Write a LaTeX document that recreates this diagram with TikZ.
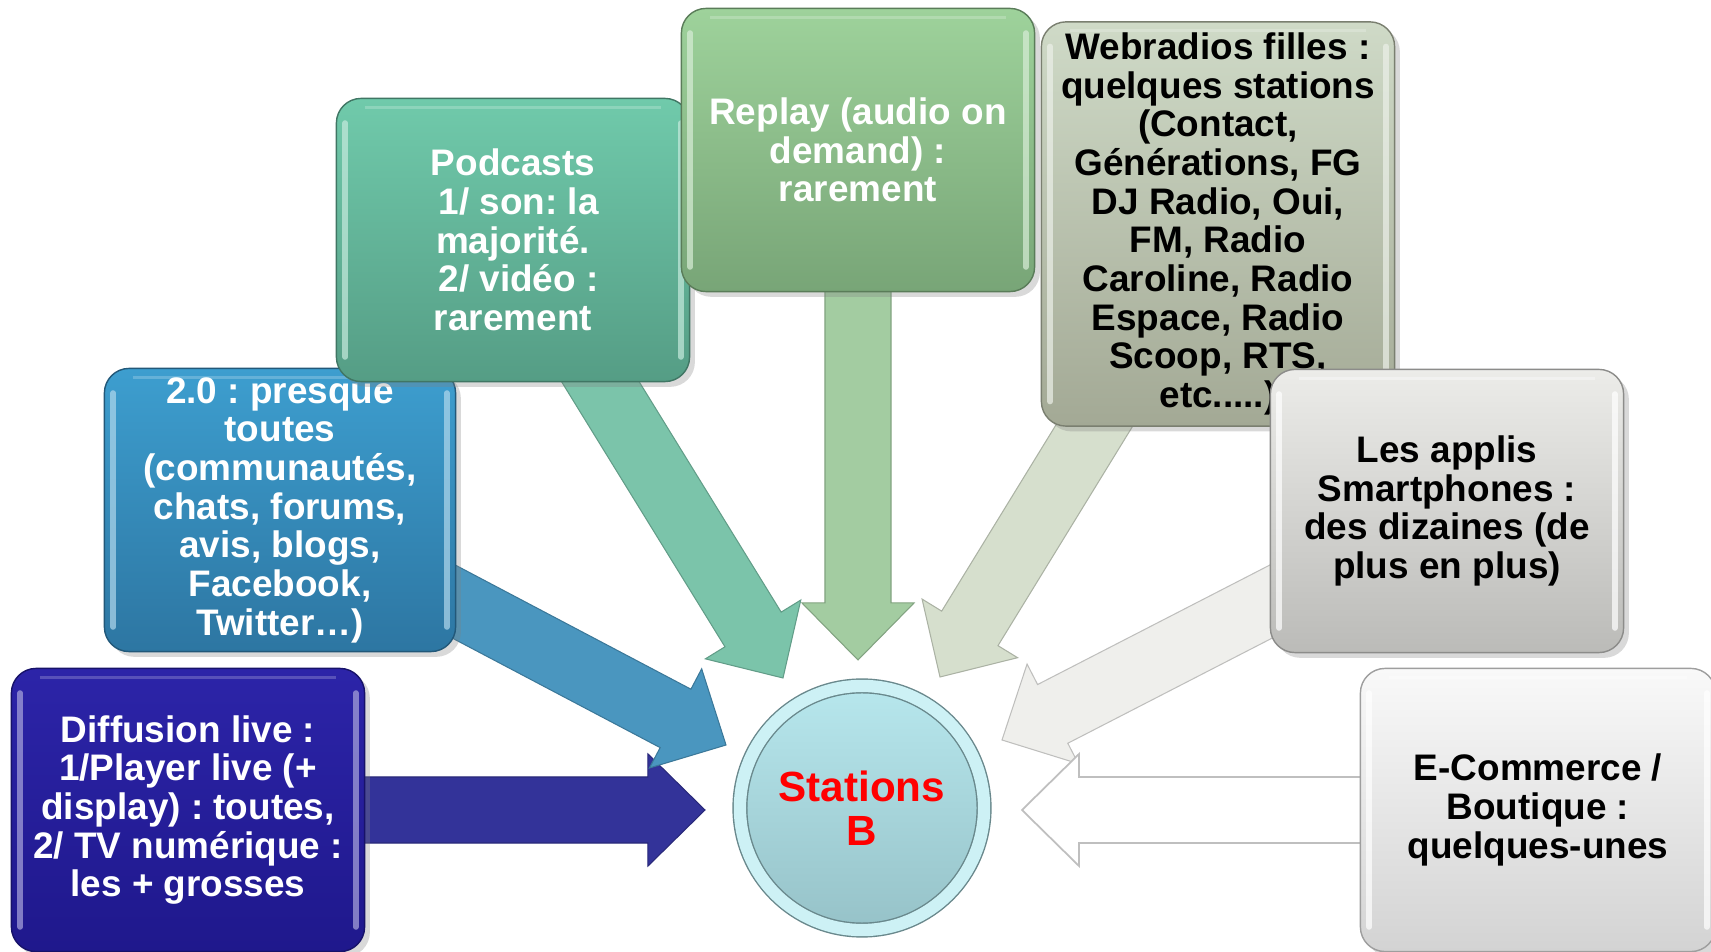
\documentclass[tikz,border=0pt]{standalone}
\usepackage{fontspec}
\setmainfont{Liberation Sans}
\usetikzlibrary{calc, shadows, backgrounds}
\frenchspacing

\definecolor{LiveTop}{HTML}{2C24A8}
\definecolor{LiveBot}{HTML}{1F188C}
\definecolor{LiveArrow}{HTML}{333399}
\definecolor{SocialTop}{HTML}{3D9ECF}
\definecolor{SocialBot}{HTML}{2D76A2}
\definecolor{SocialArrow}{HTML}{4A96BF}
\definecolor{PodTop}{HTML}{70CAAB}
\definecolor{PodBot}{HTML}{559D85}
\definecolor{PodArrow}{HTML}{7BC4AA}
\definecolor{ReplayTop}{HTML}{9ED29B}
\definecolor{ReplayBot}{HTML}{78A577}
\definecolor{ReplayArrow}{HTML}{A3CCA1}
\definecolor{WebTop}{HTML}{CFDAC7}
\definecolor{WebBot}{HTML}{A3A995}
\definecolor{WebArrow}{HTML}{D6DFCD}
\definecolor{AppTop}{HTML}{ECECE9}
\definecolor{AppBot}{HTML}{BBBBB8}
\definecolor{AppArrow}{HTML}{EFEFEC}
\definecolor{ShopTop}{HTML}{F9F9F9}
\definecolor{ShopBot}{HTML}{D3D3D3}
\definecolor{ShopArrow}{HTML}{FFFFFF}
\definecolor{StationTop}{HTML}{B7E7ED}
\definecolor{StationBot}{HTML}{96C2C8}
\definecolor{StationRim}{HTML}{CDF1F5}

\newcommand{\bodyw}{.33cm}
\newcommand{\headw}{.56cm}
\newcommand{\headl}{.57cm}
% block arrow from #1 to the tip #2
\newcommand{\blockarrow}[3]{
  \coordinate (ba-s) at (#1);
  \coordinate (ba-t) at (#2);
  \coordinate (ba-b) at ($(ba-t)!\headl!(ba-s)$);
  \filldraw[#3] ($(ba-s)!\bodyw!90:(ba-t)$) -- ($(ba-b)!\bodyw!-90:(ba-s)$)
      -- ($(ba-b)!\headw!-90:(ba-s)$) -- (ba-t) -- ($(ba-b)!\headw!90:(ba-s)$)
      -- ($(ba-b)!\bodyw!90:(ba-s)$) -- ($(ba-s)!\bodyw!-90:(ba-t)$) -- cycle;
}

\tikzset{channel/.style n args={4}{rectangle, rounded corners=7pt, minimum width=3.53cm,
    minimum height=2.83cm, inner sep=0pt, align=center, top color=#1, bottom color=#2,
    draw=#2!75!black, line width=.4pt, text=#3,
    font=\fontsize{10.5}{11}\selectfont\bfseries,
    drop shadow={opacity=.3, shadow xshift=1.5pt, shadow yshift=-1.5pt},
    path picture={\draw[#4, opacity=.7, line width=1.6pt, line cap=round]
      ($(path picture bounding box.south west)+(2.5pt,7pt)$) --
      ($(path picture bounding box.north west)+(2.5pt,-7pt)$)
      ($(path picture bounding box.south east)+(-2.5pt,7pt)$) --
      ($(path picture bounding box.north east)+(-2.5pt,-7pt)$);
      \draw[#4, opacity=.35, line width=.8pt]
      ($(path picture bounding box.north west)+(8pt,-2.5pt)$) --
      ($(path picture bounding box.north east)+(-8pt,-2.5pt)$);}}}
\tikzset{pfeil/.style={fill=#1, draw=#1!80!black, line width=.3pt}}

\begin{document}
\begin{tikzpicture}[x=.01cm, y=-.01cm]
  \useasboundingbox (0,0) rectangle (1711,952);

  % --- channels ---
  \node[channel={LiveTop}{LiveBot}{white}{LiveTop!40!white}] (live) at (188,810)
    {Diffusion live :\\1/Player live (+\\display) : toutes,\\2/ TV numérique :\\les + grosses};
  \node[channel={SocialTop}{SocialBot}{white}{SocialTop!40!white}, minimum width=3.51cm] (social) at (280,510)
    {2.0 : presque\\toutes\\(communautés,\\chats, forums,\\avis, blogs,\\Facebook,\\Twitter…)};
  \node[channel={PodTop}{PodBot}{white}{PodTop!40!white}] (podcast) at (513,240)
    {Podcasts\\\hspace*{.3em}1/ son: la\\majorité.\\\hspace*{.3em}2/ vidéo :\\rarement};
  \node[channel={ReplayTop}{ReplayBot}{white}{ReplayTop!40!white}] (replay) at (858,150)
    {Replay (audio on\\demand) :\\rarement};
  \node[channel={WebTop}{WebBot}{black}{WebTop!40!white}, minimum height=4.04cm] (webradio) at (1218,224)
    {Webradios filles :\\quelques stations\\(Contact,\\Générations, FG\\DJ Radio, Oui,\\FM, Radio\\Caroline, Radio\\Espace, Radio\\Scoop, RTS,\\etc.....)};
  \node[channel={AppTop}{AppBot}{black}{white}] (appli) at (1447,511)
    {Les applis\\Smartphones :\\des dizaines (de\\plus en plus)};
  \node[channel={ShopTop}{ShopBot}{black}{white}, minimum width=3.55cm] (shop) at (1538,810)
    {E-Commerce /\\Boutique :\\quelques-unes};

  % --- station ---
  \node[circle, minimum size=2.44cm, top color=StationTop, bottom color=StationBot,
        draw=StationBot!70!black, double=StationRim, double distance=3.5pt, line width=.4pt,
        align=center, text=red, font=\fontsize{12}{12.5}\selectfont\bfseries,
        drop shadow={opacity=.3, shadow xshift=1.5pt, shadow yshift=-1.5pt}] (station) at (862,808)
    {Stations\\B};

  % --- arrows to the station ---
  \coordinate (live-tip) at (705,810);
  \coordinate (social-tip) at (726,745);
  \coordinate (podcast-tip) at (783,678);
  \coordinate (replay-tip) at (858,660);
  \coordinate (webradio-tip) at (940,677);
  \coordinate (appli-tip) at (1002,740);
  \coordinate (shop-tip) at (1022,810);

  \begin{pgfonlayer}{background}
    \blockarrow{live.center}{live-tip}{pfeil=LiveArrow}
    \blockarrow{social.center}{social-tip}{pfeil=SocialArrow}
    \blockarrow{podcast.center}{podcast-tip}{pfeil=PodArrow}
    \blockarrow{replay.center}{replay-tip}{pfeil=ReplayArrow}
    \blockarrow{webradio.center}{webradio-tip}{pfeil=WebArrow}
    \blockarrow{appli.center}{appli-tip}{pfeil=AppArrow}
    \blockarrow{shop.center}{shop-tip}{fill=ShopArrow, draw=black!25, line width=.5pt}
  \end{pgfonlayer}
\end{tikzpicture}
\end{document}
